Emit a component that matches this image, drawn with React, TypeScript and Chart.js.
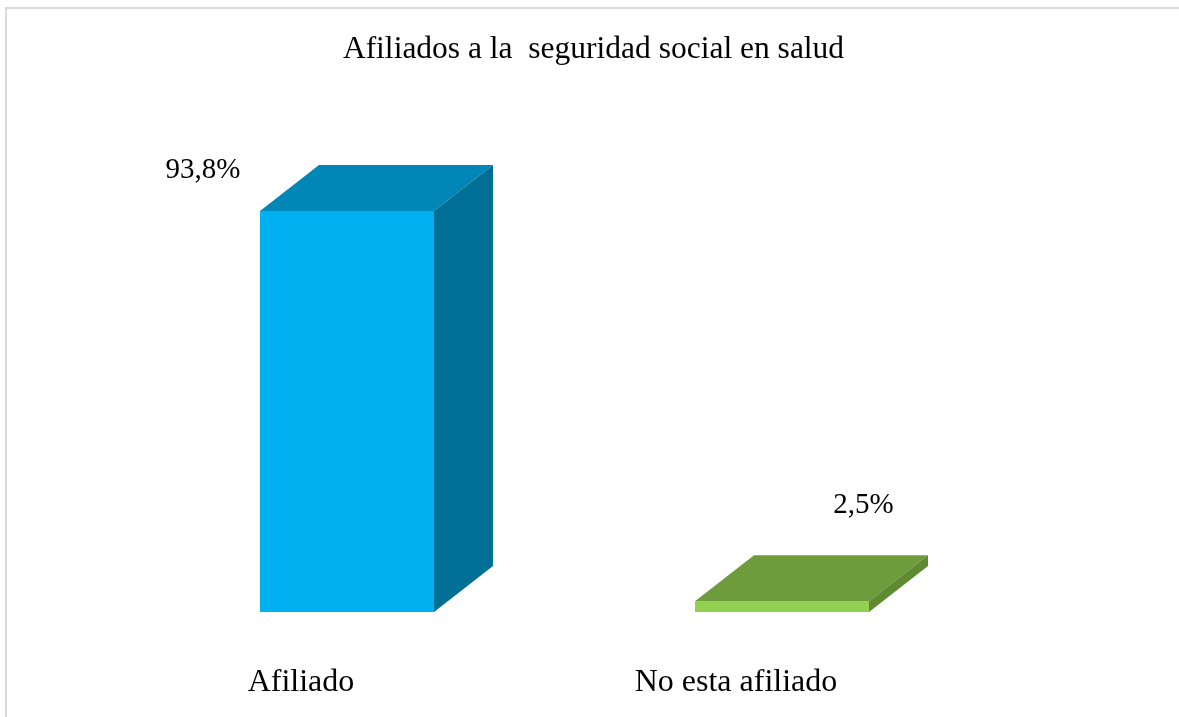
import React, { useEffect, useRef } from "react";
import { Chart, registerables } from "chart.js";

Chart.register(...registerables);

const TITLE = "Afiliados a la  seguridad social en salud";
const categories = ["Afiliado", "No esta afiliado"];
const values = [93.8, 2.5];
const valueLabels = ["93,8%", "2,5%"];
const frontColors = ["#00B0F0", "#92D050"];
const topColors = ["#0087B7", "#6E9B3C"];
const sideColors = ["#006F96", "#5E8A32"];

const SERIF = "'Liberation Serif', 'Times New Roman', serif";

const box3d = {
  id: "box3d",
  afterDatasetsDraw(chart: any) {
    const ctx = chart.ctx;
    const meta = chart.getDatasetMeta(0);
    const dx = 59;
    const dy = -46;
    meta.data.forEach((el: any, i: number) => {
      const { x, y, base, width } = el.getProps(["x", "y", "base", "width"], true);
      const l = x - width / 2;
      const r = x + width / 2;
      ctx.save();
      ctx.fillStyle = topColors[i];
      ctx.beginPath();
      ctx.moveTo(l, y);
      ctx.lineTo(l + dx, y + dy);
      ctx.lineTo(r + dx, y + dy);
      ctx.lineTo(r, y);
      ctx.closePath();
      ctx.fill();
      ctx.fillStyle = sideColors[i];
      ctx.beginPath();
      ctx.moveTo(r, y);
      ctx.lineTo(r + dx, y + dy);
      ctx.lineTo(r + dx, base + dy);
      ctx.lineTo(r, base);
      ctx.closePath();
      ctx.fill();
      ctx.restore();
    });
  },
};

const labelOffsets = [
  { dx: -144, dy: -33 },
  { dx: 81.5, dy: -88 },
];

const decorations = {
  id: "decorations",
  afterDraw(chart: any) {
    const ctx = chart.ctx;
    ctx.save();
    ctx.strokeStyle = "#D9D9D9";
    ctx.lineWidth = 2;
    ctx.beginPath();
    ctx.moveTo(6, 740);
    ctx.lineTo(6, 8);
    ctx.lineTo(1200, 8);
    ctx.stroke();
    ctx.fillStyle = "#000000";
    ctx.textAlign = "center";
    ctx.textBaseline = "alphabetic";
    ctx.font = `31.5px ${SERIF}`;
    ctx.fillText(TITLE, 593.5, 58);
    ctx.font = `29px ${SERIF}`;
    const meta = chart.getDatasetMeta(0);
    meta.data.forEach((el: any, i: number) => {
      const { x, y } = el.getProps(["x", "y"], true);
      ctx.fillText(valueLabels[i], x + labelOffsets[i].dx, y + labelOffsets[i].dy);
    });
    ctx.restore();
  },
};

export default function App() {
  const ref = useRef<HTMLCanvasElement | null>(null);
  useEffect(() => {
    if (!ref.current) return;
    const chart = new Chart(ref.current, {
      type: "bar",
      data: {
        labels: categories,
        datasets: [
          {
            data: values,
            backgroundColor: frontColors,
            borderWidth: 0,
            barPercentage: 1,
            categoryPercentage: 0.4,
          },
        ],
      },
      options: {
        animation: false,
        responsive: false,
        layout: { padding: { left: 129.5, right: 179.5, top: 184.5, bottom: 15.6 } },
        plugins: {
          legend: { display: false },
          title: { display: false },
          tooltip: { enabled: false },
        },
        scales: {
          x: {
            grid: { display: false, drawTicks: false },
            border: { display: false },
            ticks: {
              color: "#000000",
              font: { family: SERIF, size: 32 },
              padding: 51,
              labelOffset: -46,
              maxRotation: 0,
            },
            afterFit(scale: any) {
              scale.height = 89.4;
            },
          },
          y: { display: false, min: 0, max: 100 },
        },
      },
      plugins: [box3d, decorations],
    });
    return () => chart.destroy();
  }, []);
  return (
    <div style={{ position: "fixed", left: 0, top: 0, width: 1179, height: 717, background: "#fff" }}>
      <canvas ref={ref} width={1179} height={717} style={{ display: "block" }} />
    </div>
  );
}
